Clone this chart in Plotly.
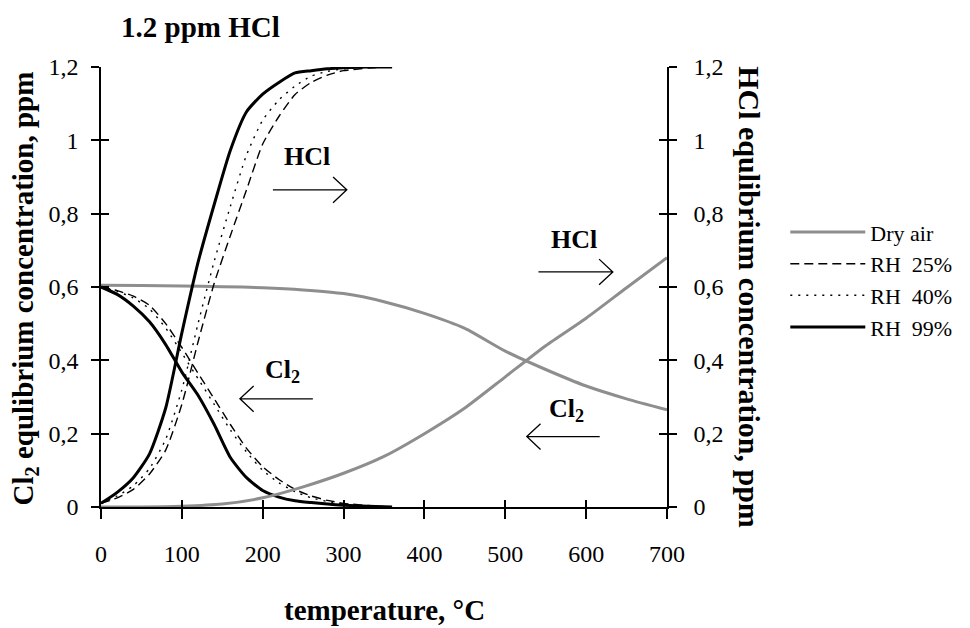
import plotly.graph_objects as go

# ---------------- data ----------------
temp_dry = [0, 50, 100, 150, 200, 250, 300, 350, 400, 450, 500, 550, 600, 650, 700]
cl2_dry = [0.605, 0.604, 0.603, 0.601, 0.598, 0.592, 0.582, 0.56, 0.528, 0.487, 0.425, 0.375, 0.33, 0.295, 0.265]
hcl_dry = [0.0, 0.0, 0.002, 0.008, 0.025, 0.055, 0.092, 0.138, 0.2, 0.27, 0.355, 0.44, 0.515, 0.598, 0.68]

temp_rh = [0, 20, 40, 60, 80, 100, 120, 140, 160, 180, 200, 220, 240, 260, 280, 300, 330, 360]
cl2_rh25 = [0.6, 0.59, 0.575, 0.55, 0.5, 0.435, 0.365, 0.295, 0.225, 0.16, 0.11, 0.075, 0.048, 0.03, 0.018, 0.01, 0.004, 0.0]
cl2_rh40 = [0.6, 0.588, 0.57, 0.54, 0.488, 0.42, 0.35, 0.28, 0.21, 0.15, 0.1, 0.066, 0.042, 0.025, 0.015, 0.008, 0.003, 0.0]
cl2_rh99 = [0.6, 0.58, 0.548, 0.505, 0.443, 0.368, 0.305, 0.225, 0.135, 0.08, 0.045, 0.027, 0.017, 0.012, 0.008, 0.005, 0.002, 0.0]
hcl_rh25 = [0.01, 0.025, 0.048, 0.09, 0.155, 0.28, 0.45, 0.61, 0.74, 0.865, 0.99, 1.065, 1.125, 1.158, 1.178, 1.19, 1.197, 1.2]
hcl_rh40 = [0.01, 0.03, 0.058, 0.105, 0.185, 0.32, 0.5, 0.67, 0.82, 0.96, 1.055, 1.11, 1.148, 1.175, 1.188, 1.195, 1.199, 1.2]
hcl_rh99 = [0.01, 0.04, 0.08, 0.145, 0.27, 0.475, 0.667, 0.825, 0.973, 1.078, 1.126, 1.158, 1.184, 1.19, 1.195, 1.198, 1.2, 1.2]

legend_names = ["Dry air", "RH  25%", "RH  40%", "RH  99%"]
x_ticks = [0, 100, 200, 300, 400, 500, 600, 700]

SERIF = "Liberation Serif, Times New Roman, serif"
GRAY = "#8e8e8e"

fig = go.Figure()

styles = [
    dict(color=GRAY, width=3, dash="solid"),
    dict(color="black", width=1.4, dash="9px,5px"),
    dict(color="black", width=1.4, dash="2px,6px"),
    dict(color="black", width=3, dash="solid"),
]
series = [
    (temp_dry, cl2_dry, hcl_dry),
    (temp_rh, cl2_rh25, hcl_rh25),
    (temp_rh, cl2_rh40, hcl_rh40),
    (temp_rh, cl2_rh99, hcl_rh99),
]

for name, st, (tx, c, h) in zip(legend_names, styles, series):
    fig.add_trace(go.Scatter(x=tx, y=c, mode="lines", name=name, legendgroup=name,
                             line=dict(shape="spline", smoothing=0.6, **st),
                             showlegend=True, yaxis="y", hoverinfo="skip"))
    fig.add_trace(go.Scatter(x=tx, y=h, mode="lines", name=name, legendgroup=name,
                             line=dict(shape="spline", smoothing=0.6, **st),
                             showlegend=False, yaxis="y2", hoverinfo="skip"))

# helper invisible traces for crossing ticks
fig.add_trace(go.Scatter(x=[0], y=[0], xaxis="x2", yaxis="y3", mode="markers",
                         marker=dict(opacity=0), showlegend=False, hoverinfo="skip"))
fig.add_trace(go.Scatter(x=[0], y=[0], xaxis="x", yaxis="y4", mode="markers",
                         marker=dict(opacity=0), showlegend=False, hoverinfo="skip"))

tickfont = dict(family=SERIF, size=24, color="black")
common_y = dict(range=[0, 1.2], dtick=0.2, tick0=0, showgrid=False, zeroline=False,
                tickcolor="black", tickwidth=1.5, tickfont=tickfont)

# page body has an 8px margin -> compensate so the plot area sits at the reference position
fig.update_layout(
    width=962, height=620,
    margin=dict(l=93, r=303, t=59, b=121),
    paper_bgcolor="white", plot_bgcolor="white",
    separators=",.",
    xaxis=dict(range=[0, 700], tickvals=x_ticks, showgrid=False, zeroline=False,
               showline=True, linecolor="black", linewidth=1.5,
               ticks="outside", ticklen=10, tickwidth=1.5, tickcolor="black",
               tickfont=tickfont, ticklabelstandoff=14),
    xaxis2=dict(range=[0, 700], tickvals=x_ticks, overlaying="x", side="bottom",
                showgrid=False, zeroline=False, showline=False,
                ticks="inside", ticklen=7, tickwidth=1.5, tickcolor="black",
                showticklabels=False),
    yaxis=dict(**common_y, showline=True, linecolor="black", linewidth=1.5,
               ticks="outside", ticklen=8, ticklabelstandoff=8),
    yaxis2=dict(**common_y, overlaying="y", side="right", showline=True,
                linecolor="black", linewidth=1.5, ticks="outside", ticklen=8,
                ticklabelstandoff=12),
    yaxis3=dict(range=[0, 1.2], dtick=0.2, overlaying="y", side="left", showgrid=False,
                zeroline=False, showline=False, ticks="inside", ticklen=8,
                tickwidth=1.5, tickcolor="black", showticklabels=False),
    yaxis4=dict(range=[0, 1.2], dtick=0.2, overlaying="y", side="right", showgrid=False,
                zeroline=False, showline=False, ticks="inside", ticklen=8,
                tickwidth=1.5, tickcolor="black", showticklabels=False),
    legend=dict(x=1.209, y=0.672, xanchor="left", yanchor="top",
                font=dict(family=SERIF, size=22, color="black"),
                itemwidth=75, bgcolor="rgba(0,0,0,0)", tracegroupgap=0),
    showlegend=True,
)

bold = dict(family=SERIF, color="black")
annotations = [
    dict(text="<b>1.2 ppm HCl</b>", xref="paper", yref="paper", x=0.175, y=1.091,
         xanchor="center", yanchor="middle", showarrow=False, font=dict(size=29, **bold)),
    dict(text="<b>temperature, °C</b>", xref="paper", yref="paper", x=0.5, y=-0.234,
         xanchor="center", yanchor="middle", showarrow=False, font=dict(size=29, **bold)),
    dict(text="<b>Cl<sub>2</sub> equlibrium concentration, ppm</b>", xref="paper", yref="paper",
         x=-0.134, y=0.497, xanchor="center", yanchor="middle", textangle=-90,
         showarrow=False, font=dict(size=29, **bold)),
    dict(text="<b>HCl equlibrium concentration, ppm</b>", xref="paper", yref="paper",
         x=1.1466, y=0.477, xanchor="center", yanchor="middle", textangle=90,
         showarrow=False, font=dict(size=30, **bold)),
    dict(text="<b>HCl</b>", xref="x", yref="y", x=254.6, y=0.955, showarrow=False,
         font=dict(size=26, **bold)),
    dict(text="<b>Cl<sub>2</sub></b>", xref="x", yref="y", x=224, y=0.37, showarrow=False,
         font=dict(size=26, **bold)),
    dict(text="<b>HCl</b>", xref="x", yref="y", x=584.7, y=0.729, showarrow=False,
         font=dict(size=26, **bold)),
    dict(text="<b>Cl<sub>2</sub></b>", xref="x", yref="y", x=576, y=0.265, showarrow=False,
         font=dict(size=26, **bold)),
]
fig.update_layout(annotations=annotations)

# arrows (label pointers) in data coordinates: (x_start, x_end, y, direction)
arrows = [(212.6, 304.0, 0.865, 1), (171.8, 262.0, 0.295, -1),
          (541.0, 633.0, 0.641, 1), (526.6, 616.8, 0.192, -1)]
hx, hy = 17.0, 0.035
shapes = []
for x0, x1, yv, d in arrows:
    tip = x1 if d > 0 else x0
    back = tip - d * hx
    path = (f"M{x0},{yv} L{x1},{yv} M{back},{yv + hy} L{tip},{yv} L{back},{yv - hy}")
    shapes.append(dict(type="path", xref="x", yref="y", path=path,
                       line=dict(color="black", width=1.3)))
fig.update_layout(shapes=shapes)

fig.write_html("out.html")
